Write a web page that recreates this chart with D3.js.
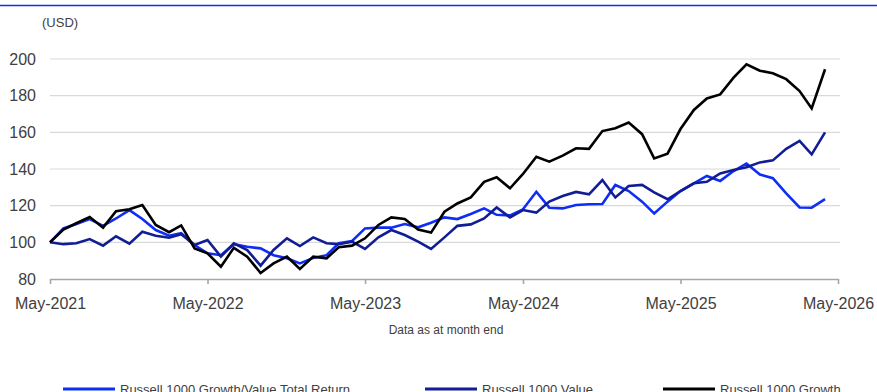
<!DOCTYPE html>
<html>
<head>
<meta charset="utf-8">
<script src="https://cdn.jsdelivr.net/npm/d3@7/dist/d3.min.js"></script>
<style>
  html, body { margin: 0; padding: 0; background: #fff; }
  svg { display: block; font-family: "Liberation Sans", Arial, sans-serif; }
</style>
</head>
<body>
<svg id="chart" width="877" height="392"></svg>
<script>
// Monthly index levels, rebased to 100 at May 2021
const startMonth = "2021-05";
const ratioSeries = [100, 107.6, 110, 112.7, 109, 113, 117.6, 112.7, 106.7, 103.6,
  105, 98.5, 94, 93, 99, 97.6, 96.7, 93, 91.3, 88.5,
  91.5, 93, 99.5, 100.7, 107.6, 108, 108, 110, 108.2, 110.7,
  113.6, 112.7, 115.5, 118.5, 115, 114.7, 118, 127.6, 118.9, 118.5,
  120.4, 120.8, 120.9, 131.3, 128, 122.2, 115.8, 122.2, 128, 132.2,
  136.2, 133.5, 138.9, 143, 137, 135, 126.7, 119, 118.9, 123.6];
const valueSeries = [100, 99, 99.5, 101.8, 98.2, 103.3, 99.3, 105.8, 103.6, 102.5,
  104.4, 98.5, 101.3, 92.2, 99.5, 95.8, 87.3, 95.8, 102.2, 98,
  102.7, 99.5, 99, 100.4, 96.4, 102.7, 106.7, 104, 100.4, 96.4,
  102.7, 109, 109.8, 113, 119, 113.6, 117.6, 116.2, 122.2, 125.3,
  127.5, 126.2, 134, 124.5, 130.7, 131.3, 127.3, 123.5, 128, 132.2,
  133, 137.6, 139.5, 141, 143.6, 144.7, 151, 155.3, 148, 160];
const growthSeries = [100, 107, 110.4, 113.8, 108, 117, 118, 120.4, 109.5, 105.5,
  109.2, 96.7, 94, 86.7, 97, 92.2, 83.3, 88.5, 92.2, 85.5,
  92.2, 91.3, 97.3, 98.2, 102.2, 109.5, 113.6, 112.7, 107, 105.3,
  116.7, 121.2, 124.5, 133, 135.5, 129.5, 137.3, 146.7, 144, 147.3,
  151.3, 151, 160.7, 162.2, 165.3, 159, 145.8, 148.4, 161.8, 172.2,
  178.5, 180.7, 189.8, 197.1, 193.6, 192.2, 189, 182.5, 173, 194.4];

const seriesNames = ["Russell 1000 Growth/Value Total Return", "Russell 1000 Value", "Russell 1000 Growth"];
const seriesColors = ["#0f2ef5", "#111d94", "#000000"];
const yTicks = [80, 100, 120, 140, 160, 180, 200];
const xTickLabels = ["May-2021", "May-2022", "May-2023", "May-2024", "May-2025", "May-2026"];
const unitLabel = "(USD)";
const xAxisTitle = "Data as at month end";

const svg = d3.select("#chart");
const textColor = "#404040";

const parseMonth = d3.utcParse("%Y-%m");
const t0 = parseMonth(startMonth);
const dates = ratioSeries.map((_, i) => d3.utcMonth.offset(t0, i));
const tickDates = xTickLabels.map(s => d3.utcParse("%b-%Y")(s));

const plotLeft = 50, plotRight = 838, plotTop = 59, plotBottom = 279;

const x = d3.scaleUtc().domain([tickDates[0], tickDates[tickDates.length - 1]]).range([plotLeft, plotRight]);
const y = d3.scaleLinear().domain([80, 200]).range([plotBottom, plotTop]);

// header rule
svg.append("line").attr("x1", 0).attr("x2", 877).attr("y1", 5.5).attr("y2", 5.5)
  .attr("stroke", "#1a2cf0").attr("stroke-width", 1.3);

// unit label
svg.append("text").attr("x", 42).attr("y", 27).attr("font-size", 13)
  .attr("fill", textColor).text(unitLabel);

// horizontal gridlines
svg.append("g").selectAll("line").data(yTicks.filter(v => v > 80)).join("line")
  .attr("x1", plotLeft).attr("x2", plotRight + 2)
  .attr("y1", d => y(d)).attr("y2", d => y(d))
  .attr("stroke", "#d9d9d9").attr("stroke-width", 1.2);

// y axis labels
const yAxis = d3.axisLeft(y).tickValues(yTicks).tickSize(0).tickPadding(14);
const gy = svg.append("g").attr("transform", `translate(${plotLeft},0)`).call(yAxis);
gy.select(".domain").remove();
gy.selectAll("text").attr("font-size", 16).attr("fill", textColor)
  .attr("font-family", "Liberation Sans, Arial, sans-serif");

// x axis
const xAxis = d3.axisBottom(x).tickValues(tickDates).tickSize(5).tickSizeOuter(0)
  .tickFormat((d, i) => xTickLabels[i]).tickPadding(14);
const gx = svg.append("g").attr("transform", `translate(0,${plotBottom})`).call(xAxis);
gx.select(".domain").attr("stroke", "#a6a6a6").attr("stroke-width", 1.6);
gx.selectAll(".tick line").attr("stroke", "#a6a6a6").attr("stroke-width", 1.6);
gx.selectAll("text").attr("font-size", 16).attr("fill", textColor)
  .attr("font-family", "Liberation Sans, Arial, sans-serif");

// x axis title
svg.append("text").attr("x", (plotLeft + plotRight) / 2 + 2).attr("y", 334)
  .attr("text-anchor", "middle").attr("font-size", 12).attr("fill", textColor)
  .text(xAxisTitle);

// series lines
const allSeries = [ratioSeries, valueSeries, growthSeries];
const line = d3.line().x((d, i) => x(dates[i])).y(d => y(d));
svg.append("g").selectAll("path").data(allSeries).join("path")
  .attr("d", d => line(d))
  .attr("fill", "none")
  .attr("stroke", (d, i) => seriesColors[i])
  .attr("stroke-width", 2.6)
  .attr("stroke-linejoin", "miter");

// legend
const legendX = [63, 425, 663];
const lg = svg.append("g").selectAll("g").data(seriesNames).join("g")
  .attr("transform", (d, i) => `translate(${legendX[i]},389)`);
lg.append("line").attr("x1", 0).attr("x2", 52).attr("y1", 0).attr("y2", 0)
  .attr("stroke", (d, i) => seriesColors[i]).attr("stroke-width", 3);
lg.append("text").attr("x", 57).attr("y", 4.6).attr("font-size", 13)
  .attr("fill", textColor).text(d => d);
</script>
</body>
</html>
